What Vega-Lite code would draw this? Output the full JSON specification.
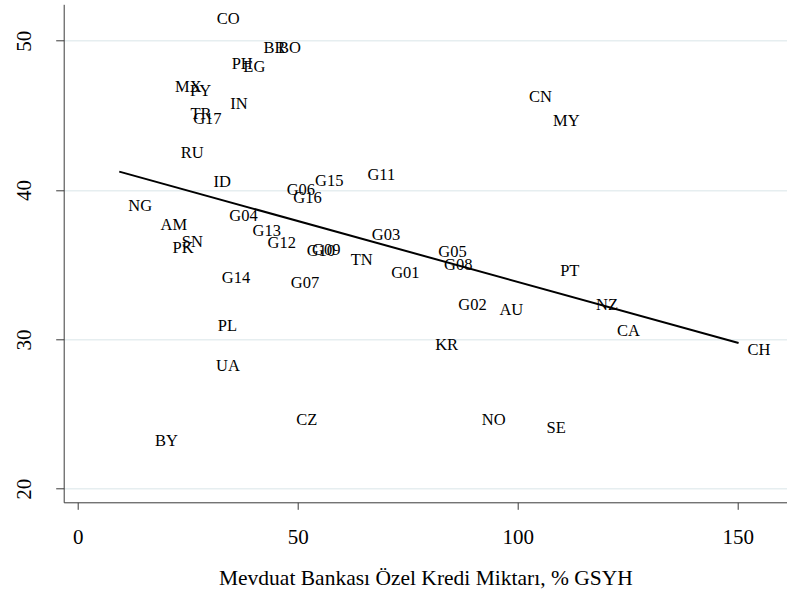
{
  "$schema": "https://vega.github.io/schema/vega-lite/v6.json",
  "autosize": {"type": "none"},
  "padding": {"left": 63.7, "top": 4.3, "right": 0, "bottom": 91.7},
  "width": 723.3,
  "height": 498,
  "background": "white",
  "config": {
    "view": {"stroke": null},
    "font": "Liberation Serif",
    "text": {"font": "Liberation Serif"},
    "axis": {
      "labelFont": "Liberation Serif",
      "titleFont": "Liberation Serif",
      "labelColor": "black",
      "titleColor": "black",
      "titleFontWeight": "normal",
      "domainColor": "#3a3a3a",
      "tickColor": "#3a3a3a",
      "domainWidth": 1,
      "tickWidth": 1
    }
  },
  "data": {
    "values": [
      {"code": "CO", "credit": 29.55, "value": 51.45},
      {"code": "BR", "credit": 40.2, "value": 49.54},
      {"code": "BO", "credit": 43.5, "value": 49.54},
      {"code": "PH", "credit": 32.95, "value": 48.45},
      {"code": "EG", "credit": 35.6, "value": 48.22},
      {"code": "MX", "credit": 20.07, "value": 46.87},
      {"code": "PY", "credit": 23.5, "value": 46.64},
      {"code": "IN", "credit": 32.6, "value": 45.77},
      {"code": "TR", "credit": 23.6, "value": 45.09},
      {"code": "G17", "credit": 24.2, "value": 44.74},
      {"code": "RU", "credit": 21.4, "value": 42.48},
      {"code": "ID", "credit": 28.8, "value": 40.56},
      {"code": "NG", "credit": 9.45, "value": 38.96},
      {"code": "AM", "credit": 16.8, "value": 37.69},
      {"code": "SN", "credit": 21.6, "value": 36.52},
      {"code": "PK", "credit": 19.5, "value": 36.14},
      {"code": "G04", "credit": 32.4, "value": 38.26},
      {"code": "G13", "credit": 37.7, "value": 37.23},
      {"code": "G12", "credit": 41.1, "value": 36.43},
      {"code": "G10", "credit": 50.0, "value": 35.93},
      {"code": "G09", "credit": 51.2, "value": 36.0},
      {"code": "G06", "credit": 45.45, "value": 40.0},
      {"code": "G16", "credit": 46.95, "value": 39.5},
      {"code": "G15", "credit": 51.9, "value": 40.61},
      {"code": "G11", "credit": 63.8, "value": 41.04},
      {"code": "G03", "credit": 64.8, "value": 37.02},
      {"code": "TN", "credit": 60.0, "value": 35.33},
      {"code": "G01", "credit": 69.2, "value": 34.47},
      {"code": "G05", "credit": 79.9, "value": 35.83},
      {"code": "G08", "credit": 81.2, "value": 34.98},
      {"code": "G14", "credit": 30.7, "value": 34.12},
      {"code": "G07", "credit": 46.4, "value": 33.75},
      {"code": "G02", "credit": 84.45, "value": 32.33},
      {"code": "AU", "credit": 93.8, "value": 31.96},
      {"code": "PT", "credit": 107.6, "value": 34.56},
      {"code": "NZ", "credit": 115.75, "value": 32.33},
      {"code": "CA", "credit": 120.5, "value": 30.56},
      {"code": "KR", "credit": 79.2, "value": 29.65},
      {"code": "NO", "credit": 89.8, "value": 24.62},
      {"code": "SE", "credit": 104.5, "value": 24.07},
      {"code": "CN", "credit": 100.5, "value": 46.23},
      {"code": "MY", "credit": 106.0, "value": 44.62},
      {"code": "CH", "credit": 150.2, "value": 29.28},
      {"code": "PL", "credit": 29.8, "value": 30.89},
      {"code": "UA", "credit": 29.4, "value": 28.21},
      {"code": "CZ", "credit": 47.6, "value": 24.6},
      {"code": "BY", "credit": 15.5, "value": 23.19}
    ]
  },
  "encoding": {
    "x": {
      "field": "credit",
      "type": "quantitative",
      "scale": {"domain": [-3.18, 161.2], "nice": false, "zero": false},
      "axis": {
        "values": [0, 50, 100, 150],
        "title": "Mevduat Bankası Özel Kredi Miktarı, % GSYH",
        "titleFont": "Liberation Serif",
        "labelFont": "Liberation Serif",
        "titleFontSize": 21.5,
        "titleFontWeight": "normal",
        "titlePadding": 20,
        "labelFontSize": 21,
        "labelPadding": 17,
        "tickSize": 7,
        "grid": true,
        "gridColor": "white",
        "gridWidth": 2
      }
    },
    "y": {
      "field": "value",
      "type": "quantitative",
      "scale": {"domain": [19.09, 52.44], "nice": false, "zero": false},
      "axis": {
        "values": [20, 30, 40, 50],
        "title": null,
        "labelFont": "Liberation Serif",
        "labelAngle": -90,
        "labelAlign": "center",
        "labelBaseline": "alphabetic",
        "labelFontSize": 21,
        "labelPadding": 25,
        "tickSize": 8,
        "grid": true,
        "gridColor": "#e6eef0",
        "gridWidth": 1.5
      }
    }
  },
  "layer": [
    {
      "mark": {"type": "text", "align": "left", "baseline": "middle", "dx": 9, "font": "Liberation Serif", "fontSize": 16.5, "color": "black"},
      "encoding": {"text": {"field": "code", "type": "nominal"}}
    },
    {
      "transform": [{"regression": "value", "on": "credit", "method": "linear"}],
      "mark": {"type": "line", "color": "black", "strokeWidth": 2},
      "encoding": {}
    }
  ]
}
